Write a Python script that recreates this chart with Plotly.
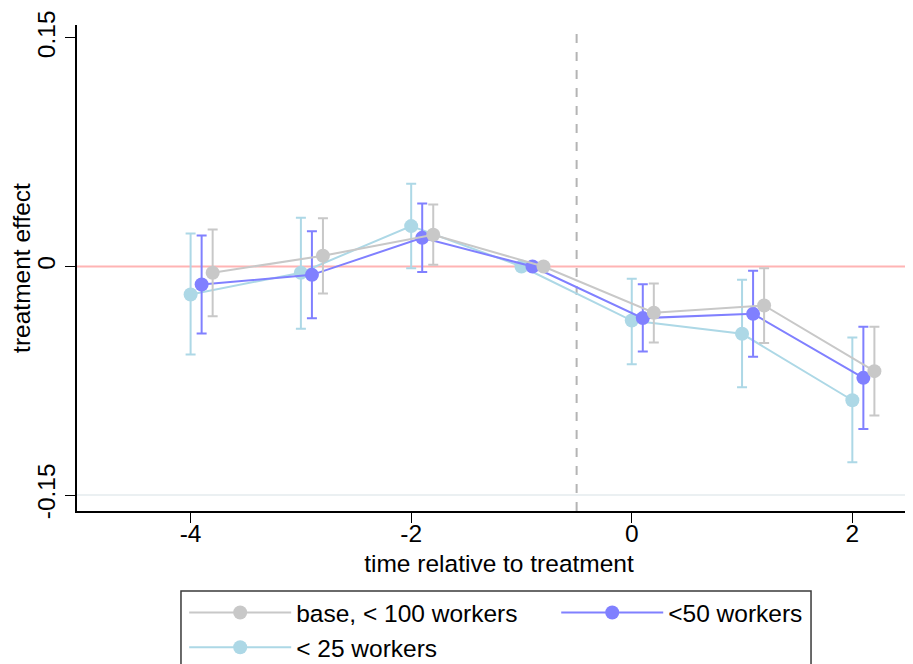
import plotly.graph_objects as go

# ---- data ----
periods = [-4, -3, -2, -1, 0, 1, 2]

base_est = [-0.0041, 0.0070, 0.0208, 0.0, -0.0304, -0.0256, -0.0687]
base_lo = [-0.0326, -0.0177, 0.0011, 0.0, -0.0499, -0.0503, -0.0978]
base_hi = [0.0243, 0.0317, 0.0407, 0.0, -0.0112, -0.0011, -0.0396]

w50_est = [-0.0118, -0.0055, 0.0188, 0.0, -0.0339, -0.0311, -0.0731]
w50_lo = [-0.0440, -0.0340, -0.0037, 0.0, -0.0558, -0.0593, -0.1066]
w50_hi = [0.0204, 0.0232, 0.0414, 0.0, -0.0116, -0.0028, -0.0396]

w25_est = [-0.0184, -0.0041, 0.0265, 0.0, -0.0355, -0.0442, -0.0878]
w25_lo = [-0.0578, -0.0409, -0.0011, 0.0, -0.0641, -0.0792, -0.1285]
w25_hi = [0.0217, 0.0320, 0.0543, 0.0, -0.0081, -0.0087, -0.0466]

x_ticks = [-4, -2, 0, 2]
y_ticks = [-0.15, 0, 0.15]
y_ticktext = ["-0.15", "0", "0.15"]

series_names = ["base, < 100 workers", "<50 workers", "< 25 workers"]

FONT = "Liberation Sans, Arial, Helvetica, sans-serif"
FS = 24.5

fig = go.Figure()

series = [
    # (name, est, lo, hi, color, x-offset, legend, rank) -- drawn in this order
    (series_names[2], w25_est, w25_lo, w25_hi, "#add8e6", 0.0, "legend", 2),
    (series_names[1], w50_est, w50_lo, w50_hi, "#8080ff", 0.1, "legend2", 1),
    (series_names[0], base_est, base_lo, base_hi, "#c8c8c8", 0.2, "legend", 1),
]

for name, est, lo, hi, color, off, leg, rank in series:
    fig.add_trace(go.Scatter(
        x=[p + off for p in periods],
        y=est,
        mode="lines+markers",
        name=name,
        legend=leg,
        legendrank=rank,
        line=dict(color=color, width=2),
        marker=dict(color=color, size=14),
        error_y=dict(
            type="data",
            symmetric=False,
            array=[h - e for h, e in zip(hi, est)],
            arrayminus=[e - l for e, l in zip(est, lo)],
            color=color,
            thickness=2,
            width=5,
        ),
    ))

# reference lines
fig.add_hline(y=0, line=dict(color="#ffb4b4", width=2), layer="below")
fig.add_hline(y=-0.15, line=dict(color="#e4ebee", width=1.5), layer="below")
fig.add_vline(x=-0.5, line=dict(color="#b4b4b4", width=2, dash="dash"), layer="below")

# legend frame (two legend columns share one box)
fig.add_shape(type="rect", xref="paper", yref="paper",
              x0=0.1232, x1=0.8697, y0=-0.1646, y1=-0.40,
              line=dict(color="#3a3a3a", width=1.5), fillcolor="rgba(0,0,0,0)")

leg_common = dict(
    orientation="v",
    y=-0.1626,
    yanchor="top",
    borderwidth=0,
    bgcolor="rgba(0,0,0,0)",
    font=dict(family=FONT, size=FS, color="black"),
    itemwidth=102,
    traceorder="normal",
    tracegroupgap=0,
)

# The page body adds an 8px offset, so the figure is shifted accordingly
fig.update_layout(
    width=913,
    height=656,
    autosize=False,
    margin=dict(l=69, r=0, t=17, b=153, autoexpand=False),
    paper_bgcolor="white",
    plot_bgcolor="white",
    font=dict(family=FONT, size=FS, color="black"),
    showlegend=True,
    legend=dict(x=0.1270, xanchor="left", **leg_common),
    legend2=dict(x=0.5678, xanchor="left", **leg_common),
    xaxis=dict(
        range=[-5.03, 2.6225],
        tickmode="array",
        tickvals=x_ticks,
        ticktext=[str(v) for v in x_ticks],
        ticks="outside",
        ticklen=10,
        tickwidth=1,
        tickcolor="black",
        showline=True,
        linecolor="black",
        linewidth=1.5,
        showgrid=False,
        zeroline=False,
        automargin=False,
        ticklabelstandoff=-10,
        title=dict(text="time relative to treatment", font=dict(size=FS), standoff=9),
        tickfont=dict(size=FS),
    ),
    yaxis=dict(
        range=[-0.1605, 0.1585],
        tickmode="array",
        tickvals=y_ticks,
        ticktext=y_ticktext,
        tickangle=-90,
        ticks="outside",
        ticklen=10,
        tickwidth=1,
        tickcolor="black",
        showline=True,
        linecolor="black",
        linewidth=1.5,
        showgrid=False,
        zeroline=False,
        automargin=False,
        ticklabelstandoff=0,
        title=dict(text="treatment effect", font=dict(size=FS), standoff=0),
        tickfont=dict(size=FS),
    ),
)

fig.write_html("out.html")
